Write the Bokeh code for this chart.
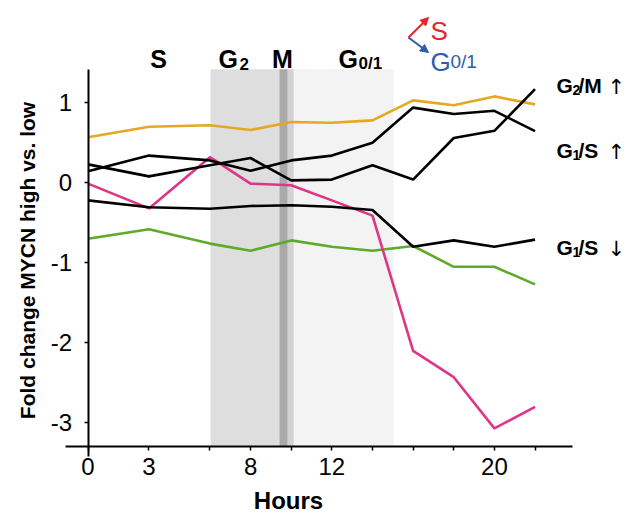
import math
from bokeh.plotting import figure
from bokeh.models import BoxAnnotation, Label, Arrow, NormalHead, FixedTicker, Range1d
from bokeh.embed import file_html
from bokeh.resources import INLINE

# ---------------- data ----------------
hours = [0, 3, 6, 8, 10, 12, 14, 16, 18, 20, 22]
x_tick_positions = [0, 3, 6, 8, 10, 12, 14, 16, 18, 20, 22]
x_tick_labels = {0: "0", 3: "3", 8: "8", 12: "12", 20: "20"}
y_tick_positions = [-3, -2, -1, 0, 1]
y_tick_labels = {-3: "-3", -2: "-2", -1: "-1", 0: "0", 1: "1"}

yellow = [0.57, 0.70, 0.72, 0.66, 0.76, 0.75, 0.78, 1.03, 0.97, 1.08, 0.98]
green = [-0.70, -0.58, -0.76, -0.85, -0.72, -0.80, -0.85, -0.79, -1.05, -1.05, -1.27]
pink = [-0.01, -0.32, 0.32, -0.01, -0.03, -0.22, -0.41, -2.10, -2.43, -3.07, -2.80]
g2m_up = [0.23, 0.08, 0.22, 0.31, 0.03, 0.04, 0.22, 0.04, 0.56, 0.65, 1.17]
g1s_up = [0.145, 0.34, 0.28, 0.15, 0.28, 0.34, 0.50, 0.94, 0.86, 0.90, 0.645]
g1s_down = [-0.22, -0.305, -0.325, -0.29, -0.28, -0.30, -0.34, -0.80, -0.72, -0.80, -0.71]

# phase shading (hours)
phase_starts = [6.03, 9.42, 9.83, 10.13]
phase_ends = [9.42, 9.83, 10.13, 15.03]
phase_colors = ["#dedede", "#a9a9a9", "#d2d2d2", "#f3f3f3"]

# ---------------- layout ----------------
W, H = 627, 513
PX_PER_HOUR = 20.32
PX_PER_UNIT = 80.0
X0_PX = 87.5     # pixel of hour 0
Y0_PX = 182.3    # pixel (from top) of value 0

x_axis_at = -3.29
y_bounds = (-3.42, 1.42)
x_bounds = (-1.1, 23.85)

p = figure(width=W, height=H,
           x_range=Range1d(-X0_PX / PX_PER_HOUR, (W - X0_PX) / PX_PER_HOUR),
           y_range=Range1d(-(H - Y0_PX) / PX_PER_UNIT, Y0_PX / PX_PER_UNIT),
           min_border=0, toolbar_location=None, output_backend="svg")
p.outline_line_color = None
p.grid.visible = False
p.background_fill_color = "white"
p.border_fill_color = "white"

for s, e, c in zip(phase_starts, phase_ends, phase_colors):
    p.add_layout(BoxAnnotation(left=s, right=e, bottom=x_axis_at, top=y_bounds[1],
                               fill_color=c, fill_alpha=1.0, line_color=None,
                               level="underlay"))

LW = 2.6
p.line(hours, yellow, line_color="#E6A822", line_width=LW)
p.line(hours, green, line_color="#5EAA2A", line_width=LW)
p.line(hours, pink, line_color="#E03487", line_width=LW)
p.line(hours, g2m_up, line_color="black", line_width=LW)
p.line(hours, g1s_up, line_color="black", line_width=LW)
p.line(hours, g1s_down, line_color="black", line_width=LW)

FONT = "Liberation Sans"

xa = p.xaxis[0]
xa.fixed_location = x_axis_at
xa.bounds = x_bounds
xa.ticker = FixedTicker(ticks=x_tick_positions)
xa.major_label_overrides = {t: x_tick_labels.get(t, "") for t in x_tick_positions}
xa.minor_tick_line_color = None
xa.major_tick_in = 0
xa.major_tick_out = 4
xa.axis_line_width = 2
xa.major_tick_line_width = 1.5
xa.major_label_text_font = FONT
xa.major_label_text_font_size = "24px"
xa.major_label_text_color = "black"
xa.major_label_standoff = 8

ya = p.yaxis[0]
ya.fixed_location = 0
ya.bounds = y_bounds
ya.ticker = FixedTicker(ticks=y_tick_positions)
ya.major_label_overrides = dict(y_tick_labels)
ya.minor_tick_line_color = None
ya.major_tick_in = 0
ya.major_tick_out = 4
ya.axis_line_width = 2
ya.major_tick_line_width = 1.5
ya.major_label_text_font = FONT
ya.major_label_text_font_size = "24px"
ya.major_label_text_color = "black"
ya.major_label_standoff = 12


def lab(x, y_top, text, size, bold=True, color="black", align="left",
        baseline="alphabetic", angle=0.0, font=FONT):
    p.add_layout(Label(x=x, y=H - y_top, x_units="screen", y_units="screen",
                       text=text, text_font=font, text_font_size=f"{size}px",
                       text_font_style="bold" if bold else "normal",
                       text_color=color, text_align=align,
                       text_baseline=baseline, angle=angle))


# axis titles
lab(27, 260, "Fold change MYCN high vs. low", 21, align="center",
    baseline="middle", angle=math.pi / 2)
lab(288, 500, "Hours", 24, align="center", baseline="middle")

# phase headers
lab(158, 58, "S", 25, align="center")
lab(218, 58, "G", 25)
lab(239, 63, "2", 17)
lab(282, 58, "M", 25, align="center")
lab(338, 58, "G", 25)
lab(358, 63, "0/1", 17)

# right-hand labels
for base, sub, rest, arrow in [(85, "2", "/M", "\u2191"),
                               (150, "1", "/S", "\u2191"),
                               (247, "1", "/S", "\u2193")]:
    lab(556, base, "G", 21)
    lab(572, base + 4, sub, 14)
    lab(578, base, rest, 21)
    lab(607, base + 1, arrow, 21, bold=False, font="DejaVu Sans")

# legend S / G0/1 with arrows
RED = "#E8222B"
BLUE = "#2D5DAE"
lab(430, 30, "S", 26, bold=False, color=RED)
lab(430, 61, "G", 26, bold=False, color=BLUE)
lab(450, 61, "0/1", 19, bold=False, color=BLUE)
p.add_layout(Arrow(x_start=408, y_start=H - 37, x_end=428, y_end=H - 17,
                   start_units="screen", end_units="screen",
                   line_color=RED, line_width=2,
                   end=NormalHead(size=8, fill_color=RED, line_color=RED)))
p.add_layout(Arrow(x_start=408, y_start=H - 37, x_end=428, y_end=H - 52,
                   start_units="screen", end_units="screen",
                   line_color=BLUE, line_width=2,
                   end=NormalHead(size=8, fill_color=BLUE, line_color=BLUE)))

open("out.html", "w").write(file_html(p, INLINE))
